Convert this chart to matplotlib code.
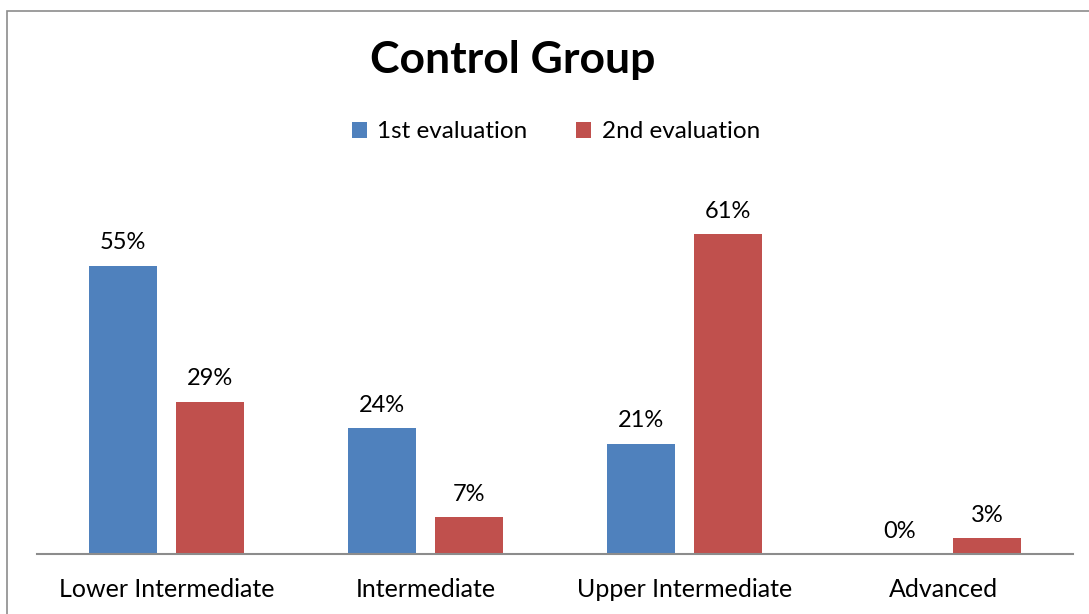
import matplotlib.pyplot as plt
import numpy as np
from matplotlib.patches import Rectangle

categories = ["Lower Intermediate", "Intermediate", "Upper Intermediate", "Advanced"]
first_eval = [55, 24, 21, 0]
second_eval = [29, 7, 61, 3]
series_names = ["1st evaluation", "2nd evaluation"]

plt.rcParams['font.family'] = ['Lato', 'DejaVu Sans']

W, H = 1089, 614
fig = plt.figure(figsize=(W / 100, H / 100), dpi=100)

# outer chart border (only left/top visible in the reference)
fig.patches.append(Rectangle((7 / W, -0.1), 1.2, (H - 11) / H + 0.1,
                             transform=fig.transFigure, fill=False,
                             edgecolor='#8c8c8c', linewidth=1.2))

ax = fig.add_axes([37 / W, 60 / H, (1073 - 37) / W, (554 - 187) / H])

x = np.arange(len(categories))
off = 0.168
w = 0.2625
blue = '#4f81bd'
red = '#c0504d'
b1 = ax.bar(x - off, first_eval, w, color=blue, label=series_names[0])
b2 = ax.bar(x + off, second_eval, w, color=red, label=series_names[1])

for bars, vals in ((b1, first_eval), (b2, second_eval)):
    for r, v in zip(bars, vals):
        ax.annotate(f"{v}%", (r.get_x() + r.get_width() / 2, v),
                    xytext=(0, 9), textcoords='offset points',
                    ha='center', va='bottom', fontsize=17)

ax.set_xlim(-0.5, len(categories) - 0.5)
ax.set_ylim(0, 70)
ax.set_xticks(x)
ax.set_xticklabels(categories, fontsize=18)
ax.tick_params(axis='x', length=0, pad=17)
ax.set_yticks([])
for s in ['top', 'right', 'left']:
    ax.spines[s].set_visible(False)
ax.spines['bottom'].set_color('#8c8c8c')
ax.spines['bottom'].set_linewidth(1.5)

fig.text(513 / W, 1 - 60 / H, "Control Group", ha='center', va='center',
         fontsize=32, fontweight='bold')

fig.legend(loc='center', bbox_to_anchor=(556 / W, 1 - 132 / H), ncol=2,
           frameon=False, fontsize=17.5, handlelength=0.6, handleheight=0.6,
           handletextpad=0.45, columnspacing=2.0)

fig.savefig('out.png', dpi=100)
